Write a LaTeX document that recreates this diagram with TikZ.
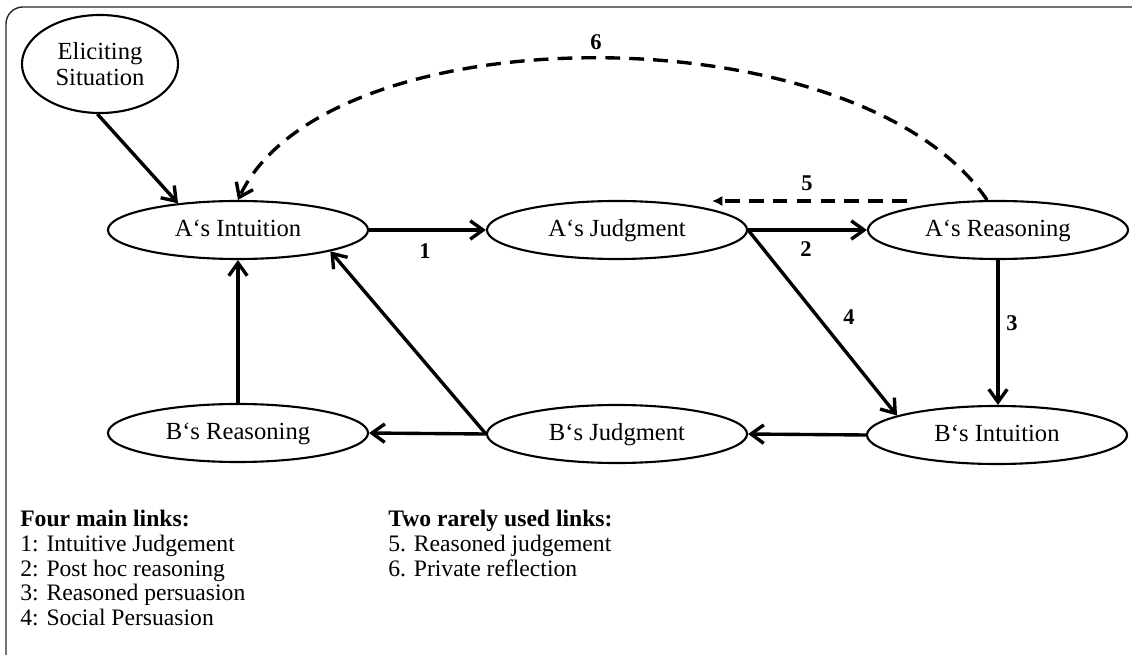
\documentclass[tikz,border=0pt]{standalone}
\usepackage{fontspec}
\setmainfont{Liberation Serif}
\usetikzlibrary{shapes.geometric,arrows.meta}

\begin{document}
\begin{tikzpicture}[x=0.025cm,y=-0.025cm,
        state/.style={ellipse,draw,line width=1.5pt,minimum width=6.5cm,minimum height=1.45cm,inner sep=0pt,font=\fontsize{17.5}{18.5}\selectfont},
        role/.style={state,text height=1.15em,text depth=0.2em},
        link/.style={line width=2.4pt,-{Straight Barb[length=3.2mm,width=4.6mm]}},
        rare/.style={line width=2.4pt,dash pattern=on 10.5pt off 6.5pt},
        lbl/.style={inner sep=0pt,font=\fontsize{16}{18}\selectfont\bfseries},
        legend/.style={anchor=base west,inner sep=0pt,font=\fontsize{16.8}{18}\selectfont},
        legendhead/.style={legend,font=\fontsize{16.8}{18}\selectfont\bfseries}]
        \clip (0,0) rectangle (1132,655);
        \draw[line width=1pt,draw=black!85,rounded corners=12pt] (6,7) rectangle (1200,720);

        \node[state,minimum width=3.9cm,minimum height=2.45cm,align=center] (es) at (100,64) {Eliciting\\Situation};
        \node[role] (ai) at (238,230) {A‘s Intuition};
        \node[role] (aj) at (617,230) {A‘s Judgment};
        \node[role] (ar) at (998,230) {A‘s Reasoning};
        \node[role] (br) at (238,433) {B‘s Reasoning};
        \node[role] (bj) at (617,434) {B‘s Judgment};
        \node[role] (bi) at (997,435) {B‘s Intuition};

        \draw[link] (es.-93) -- (ai.156);
        \draw[link] (ai.east) -- (aj.west);
        \draw[link] (aj.east) -- (ar.west);
        \draw[link] (ar.south) -- (ar.south |- bi.north);
        \draw[link] (aj.east) -- (bi.169);
        \draw[link] (bi.west) -- (bj.east);
        \draw[link] (bj.west) -- (br.east);
        \draw[link] (bj.west) -- (ai.-13);
        \draw[link] (br.north) -- (ai.south);

        % rarely used links
        \coordinate (r5) at (907,201);
        \coordinate (j5) at (712,201);
        \draw[rare,-{Latex[length=2.6mm,width=2.6mm]}] (r5) -- (j5);
        \draw[rare,-{Straight Barb[length=3.2mm,width=4.6mm]}] (ar.110) .. controls (859,11) and (327,11) .. (ai.north);

        \node[lbl] (l1) at (425,251) {1};
        \node[lbl] (l2) at (806,249) {2};
        \node[lbl] (l3) at (1012,323) {3};
        \node[lbl] (l4) at (849,317) {4};
        \node[lbl] (l5) at (807,183) {5};
        \node[lbl] (l6) at (596,42) {6};

        \node[legendhead] (h1) at (20,527) {Four main links:};
        \node[legend] (k1) at (20,552) {1: Intuitive Judgement};
        \node[legend] (k2) at (20,576) {2: Post hoc reasoning};
        \node[legend] (k3) at (20,600) {3: Reasoned persuasion};
        \node[legend] (k4) at (20,625) {4: Social Persuasion};
        \node[legendhead] (h2) at (388,527) {Two rarely used links:};
        \node[legend] (k5) at (388,552) {5. Reasoned judgement};
        \node[legend] (k6) at (388,576) {6. Private reflection};
    \end{tikzpicture}
\end{document}
